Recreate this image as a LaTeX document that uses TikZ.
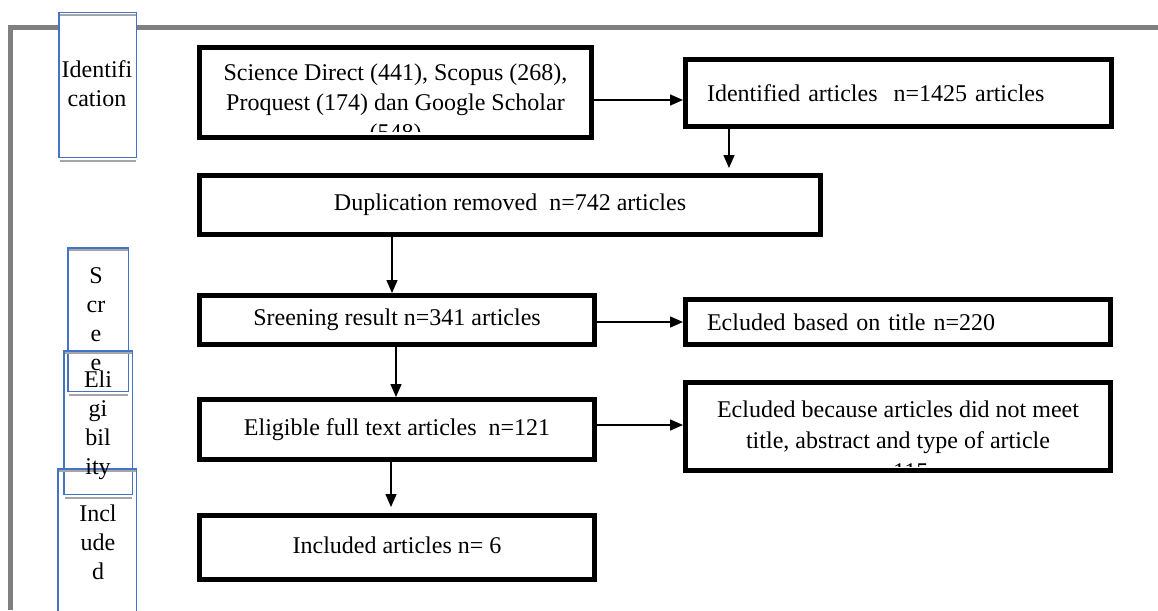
\documentclass[tikz,border=0pt]{standalone}
\usepackage{fontspec}
\setmainfont{Liberation Serif}
\usetikzlibrary{arrows.meta}
\definecolor{framegray}{HTML}{808080}
\definecolor{sideblue}{HTML}{4472C4}
\definecolor{shadowgray}{HTML}{A6A6A6}
\tikzset{
  mainbox/.style={draw=black, line width=5pt, inner sep=0pt, align=center,
    font=\fontsize{24}{30}\selectfont, text height=16.4pt, text depth=5.3pt},
  leftbox/.style={mainbox, inner xsep=21.5pt, align=left, text depth=0pt},
  sidebox/.style={draw=sideblue, line width=1.5pt, inner sep=0pt},
  shadowline/.style={draw=shadowgray, line width=1.5pt},
  cliptxt/.style={font=\fontsize{24}{30}\selectfont, inner sep=0pt, align=center, anchor=north},
  sidetxt/.style={font=\fontsize{24}{29}\selectfont, inner sep=0pt, align=center, anchor=north},
  arr/.style={line width=1.5pt, -{Triangle[length=13pt,width=11pt]}},
}
\begin{document}
\begin{tikzpicture}[x=1pt,y=-1pt]
\useasboundingbox (0,0) rectangle (1158,610);
\fill[white] (0,0) rectangle (1158,610);
% outer frame
\draw[framegray, line width=5pt] (1158,27.5) -- (10.5,27.5) -- (10.5,610);

% side label boxes
\node[sidebox, fill=white, minimum width=77.5pt, minimum height=144.5pt] (lid) at (97.5,85) {};
\node[sidebox, minimum width=60.5pt, minimum height=143.5pt] (lscr) at (98,319.5) {};
\node[sidebox, minimum width=68.5pt, minimum height=143.5pt] (lelig) at (98,422.5) {};
\node[sidebox, minimum width=78.5pt, minimum height=145.5pt] (lincl) at (97,541.5) {};
\foreach \b in {lid,lscr,lelig,lincl}{
  \draw[shadowline] ([xshift=1.5pt,yshift=-3pt]\b.north west) -- ([xshift=-1.5pt,yshift=-3pt]\b.north east);
  \draw[shadowline] ([xshift=1.5pt,yshift=-3pt]\b.south west) -- ([xshift=-1.5pt,yshift=-3pt]\b.south east);
}
\node[sidetxt] (tid) at (97,60.6) {Identifi\\cation};
\node[sidetxt] (tscr) at (96,267.8) {S\\cr\\e\\e};
\node[sidetxt] (telig) at (98,370.6) {Eli\\gi\\bil\\ity};
\node[sidetxt] (tincl) at (98,504.6) {Incl\\ude\\d};

% main boxes
\node[mainbox, minimum width=392pt, minimum height=90pt] (sci) at (395.5,92.5) {};
\begin{scope}
  \clip ([yshift=9pt]sci.south west) rectangle (sci.north east);
  \node[cliptxt] (scitxt) at (395.5,63.5) {Science Direct (441), Scopus (268),\\Proquest (174) dan Google Scholar\\(548)};
\end{scope}

\node[leftbox, minimum width=426pt, minimum height=67pt, text width=383pt] (ident) at (898.5,93) {Identified articles~ n=1425 articles};
\node[mainbox, minimum width=621pt, minimum height=59pt] (dup) at (510,205) {Duplication removed~ n=742 articles};
\node[mainbox, minimum width=395pt, minimum height=49pt] (scr) at (397,320) {Sreening result n=341 articles};
\node[leftbox, minimum width=425pt, minimum height=45pt, text width=382pt] (exc1) at (898,322) {Ecluded based on title n=220};
\node[mainbox, minimum width=395pt, minimum height=60pt] (elig) at (397,429.5) {Eligible full text articles~ n=121};

\node[mainbox, minimum width=425pt, minimum height=88pt] (exc2) at (898,426.5) {};
\begin{scope}
  \clip ([yshift=7pt]exc2.south west) rectangle (exc2.north east);
  \node[cliptxt, font=\fontsize{24}{31}\selectfont] (exc2txt) at (898,400.6) {Ecluded because articles did not meet\\title, abstract and type of article\\n=115};
\end{scope}

\node[mainbox, minimum width=395pt, minimum height=64pt] (incl) at (397,547.5) {Included articles n= 6};

% connectors
\draw[arr] ([yshift=-7.5pt]sci.east) -- ([yshift=-7.5pt]sci.east -| ident.west);
\draw[arr, shorten >=5pt] ([xshift=46pt]ident.south west) -- ([xshift=46pt]ident.south west |- dup.north);
\draw[arr] ([xshift=-5pt]scr.north |- dup.south) -- ([xshift=-5pt]scr.north);
\draw[arr] ([yshift=-2pt]scr.east) -- ([yshift=-2pt]scr.east -| exc1.west);
\draw[arr] ([xshift=-1pt]scr.south) -- ([xshift=-1pt]scr.south |- elig.north);
\draw[arr] ([yshift=4.5pt]elig.east) -- ([yshift=4.5pt]elig.east -| exc2.west);
\draw[arr, shorten >=6pt] ([xshift=-6pt]elig.south) -- ([xshift=-6pt]elig.south |- incl.north);
\end{tikzpicture}
\end{document}
